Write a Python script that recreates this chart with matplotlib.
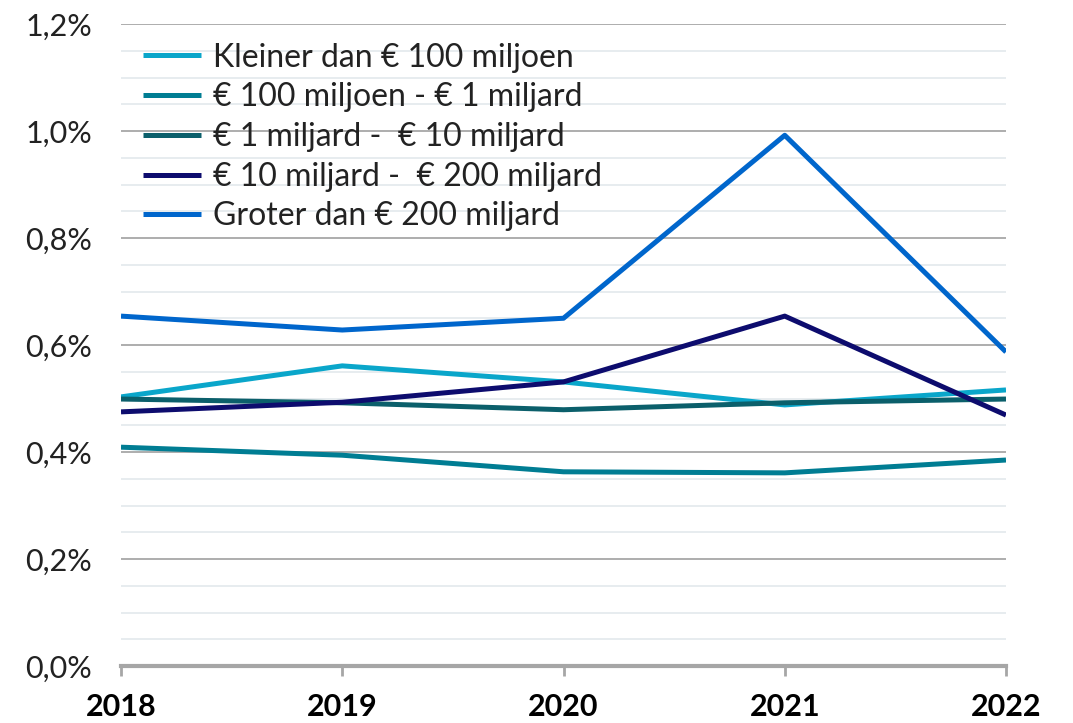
import matplotlib
matplotlib.use("Agg")
import matplotlib.pyplot as plt
from matplotlib.ticker import MultipleLocator, FuncFormatter

years = [2018, 2019, 2020, 2021, 2022]
labels = ["Kleiner dan € 100 miljoen", "€ 100 miljoen - € 1 miljard",
          "€ 1 miljard -  € 10 miljard", "€ 10 miljard -  € 200 miljard",
          "Groter dan € 200 miljard"]
kleiner_100m = [0.503, 0.561, 0.531, 0.488, 0.516]
m100_1bn = [0.409, 0.394, 0.363, 0.361, 0.385]
bn1_10bn = [0.499, 0.492, 0.479, 0.492, 0.499]
bn10_200bn = [0.475, 0.493, 0.531, 0.654, 0.469]
groter_200bn = [0.654, 0.628, 0.650, 0.992, 0.587]
series = [kleiner_100m, m100_1bn, bn1_10bn, bn10_200bn, groter_200bn]
colors = ["#0AA6CA", "#007D93", "#0B5F6B", "#0D0C6E", "#0066CC"]

plt.rcParams['font.family'] = ['Lato', 'DejaVu Sans']
fig = plt.figure(figsize=(10.73, 7.23), dpi=100)
ax = fig.add_axes([121/1073, 1-666/723, (1006-121)/1073, (666-24)/723])

for vals, lab, c in zip(series, labels, colors):
    ax.plot(years, vals, color=c, lw=3.6, label=lab, solid_capstyle='butt', zorder=3)

ax.set_xlim(2018, 2022)
ax.set_ylim(0, 1.2)
ax.yaxis.set_major_locator(MultipleLocator(0.2))
ax.yaxis.set_minor_locator(MultipleLocator(0.05))
ax.yaxis.set_major_formatter(FuncFormatter(lambda v, p: f"{v:.1f}%".replace('.', ',')))
ax.set_xticks(years)
ax.grid(axis='y', which='major', color='#A0A0A0', lw=1.2, zorder=1)
ax.grid(axis='y', which='minor', color='#E3E9EC', lw=1.2, zorder=0)
for s in ['left', 'right', 'top']:
    ax.spines[s].set_visible(False)
ax.spines['bottom'].set_color('#A6A6A6')
ax.spines['bottom'].set_linewidth(3)
ax.tick_params(axis='y', which='both', length=0, pad=21, labelsize=22, labelcolor='#222222')
ax.tick_params(axis='x', length=7.5, width=2, color='#A6A6A6', pad=12, labelsize=22)
for t in ax.get_xticklabels():
    t.set_fontweight('bold')

leg = ax.legend(loc='upper left', bbox_to_anchor=(0.0, 1.006), frameon=False,
                fontsize=23, handlelength=1.8, handletextpad=0.37, labelspacing=0.305,
                borderaxespad=0.3)
for t in leg.get_texts():
    t.set_color('#222222')

fig.savefig("out.png", dpi=100)
